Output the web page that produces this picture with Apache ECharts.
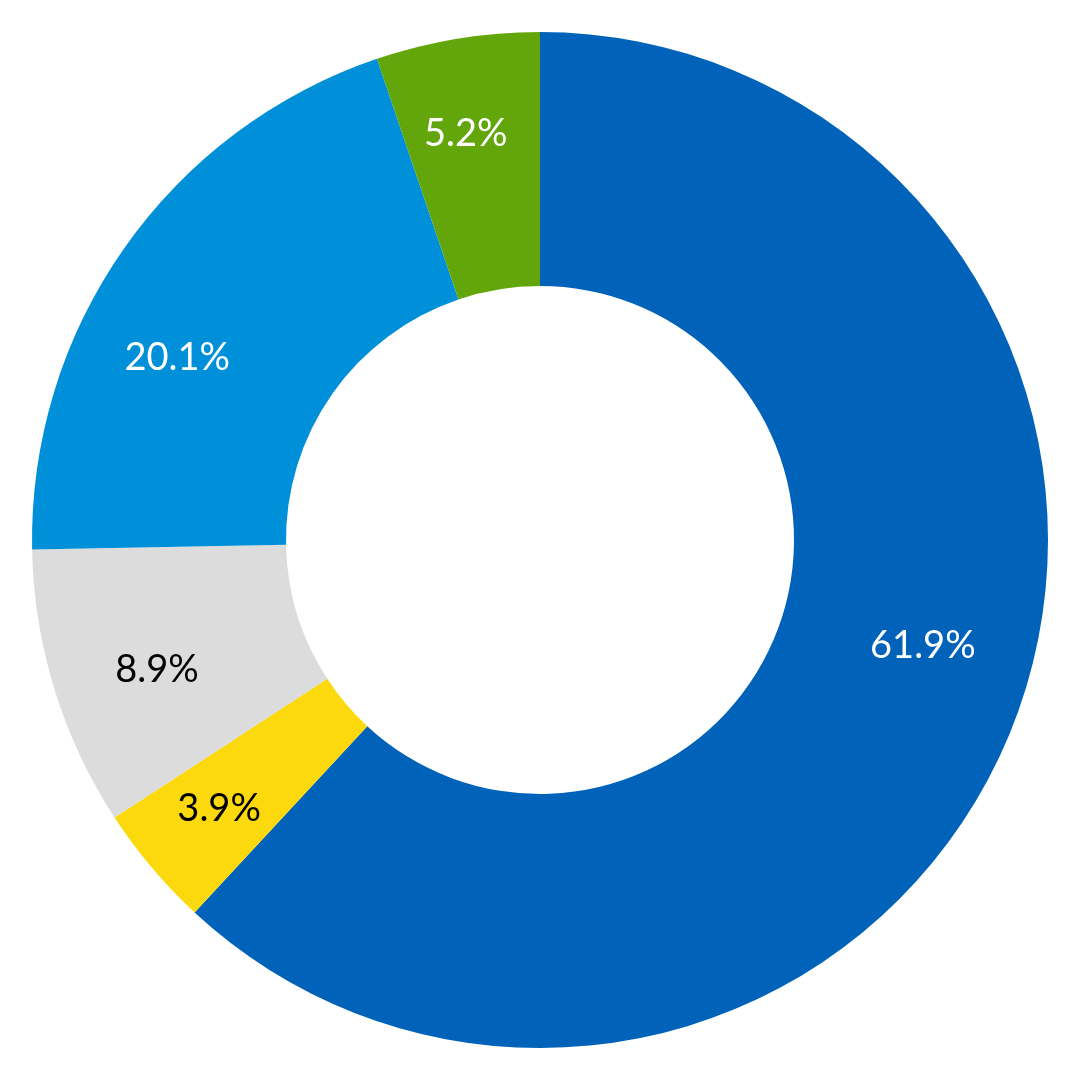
<!DOCTYPE html>
<html>
<head>
    <meta charset="utf-8"/>
    <script type="text/javascript" src="https://cdn.jsdelivr.net/npm/echarts@6/dist/echarts.min.js"></script>
    <style>
        html, body {
            margin: 0;
            padding: 0;
            background: #fff;
        }

        #chart {
            width: 1080px;
            height: 1080px;
        }
    </style>
</head>
<body>
<div id="chart"></div>
<script type="text/javascript">
    // slices, clockwise from 12 o'clock
    let names = ['A', 'B', 'C', 'D', 'E'];
    let values = [61.9, 3.9, 8.9, 20.1, 5.2];
    let colors = ['#0062B8', '#FCD90D', '#DCDCDC', '#0090DA', '#63A60B'];
    let labelColors = ['#ffffff', '#000000', '#000000', '#ffffff', '#ffffff'];
    // small nudges so the labels sit where the original put them
    let labelOffsets = [[3, -43], [-9, 6], [7, 10], [-29, 52], [-8, -4]];

    let chart = echarts.init(document.getElementById('chart'));
    chart.setOption({
        animation: false,
        series: [
            {
                type: 'pie',
                center: [540, 540],
                radius: [254, 508],
                startAngle: 90,
                clockwise: true,
                label: {show: false},
                labelLine: {show: false},
                itemStyle: {borderWidth: 0},
                emphasis: {disabled: true},
                data: names.map(function (n, i) {
                    return {
                        name: n,
                        value: values[i],
                        itemStyle: {color: colors[i]}
                    };
                })
            },
            {
                // transparent copy, only used to place the labels further out
                type: 'pie',
                center: [540, 540],
                radius: [302, 508],
                startAngle: 90,
                clockwise: true,
                silent: true,
                avoidLabelOverlap: false,
                label: {
                    show: true,
                    position: 'inside',
                    fontFamily: 'Lato',
                    fontWeight: 'normal',
                    fontSize: 38,
                    formatter: function (p) {
                        return p.value.toFixed(1) + '%';
                    }
                },
                labelLine: {show: false},
                itemStyle: {color: 'rgba(0,0,0,0)', borderWidth: 0},
                emphasis: {disabled: true},
                data: names.map(function (n, i) {
                    return {
                        name: n,
                        value: values[i],
                        label: {color: labelColors[i], offset: labelOffsets[i]}
                    };
                })
            }
        ]
    });
</script>
</body>
</html>
